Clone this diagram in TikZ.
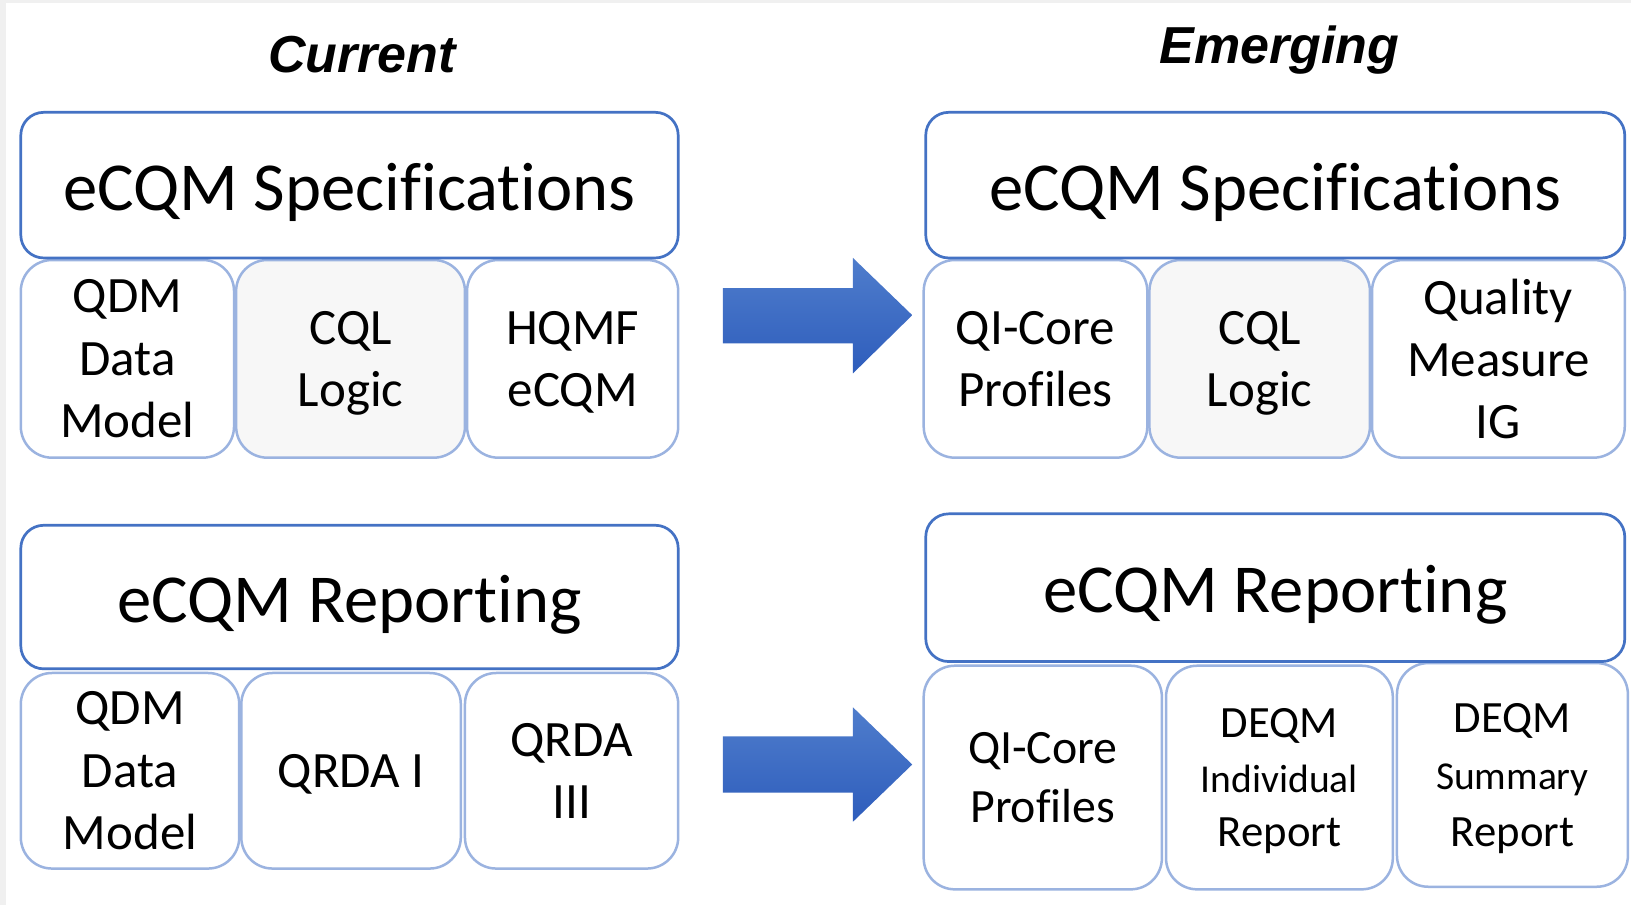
\documentclass[tikz,border=0pt]{standalone}
\usepackage{fontspec}
\setmainfont{Carlito}[Ligatures=CommonOff]
\newfontfamily\titlefont{Liberation Sans}
\definecolor{boxblue}{HTML}{4472C4}
\definecolor{subblue}{HTML}{9BB3E0}
\definecolor{cqlgray}{HTML}{F7F7F7}
\definecolor{bggray}{HTML}{F0F0F0}
\definecolor{arrtop}{HTML}{4F7DCC}
\definecolor{arrbot}{HTML}{2E5DBC}
\begin{document}
\begin{tikzpicture}[x=0.5pt,y=-0.5pt,
  headbox/.style={draw=boxblue, line width=1.3pt, fill=white, rounded corners=11pt, inner sep=0pt,
    font=\fontsize{33}{40}\selectfont, text height=24pt, text depth=0pt},
  subbox/.style={draw=subblue, line width=1.2pt, fill=white, rounded corners=15pt, inner sep=0pt,
    align=center, text depth=0pt, font=\fontsize{24.5}{30}\selectfont},
  graybox/.style={subbox, fill=cqlgray},
  titletext/.style={font=\titlefont\bfseries\itshape\fontsize{25}{30}\selectfont, anchor=base, inner sep=0pt},
  bigarrow/.style={top color=arrtop, bottom color=arrbot, draw=none}]
\fill[bggray] (0,0) rectangle (1568,870);
\fill[white] (6,3) rectangle (1568,870);
\useasboundingbox (0,0) rectangle (1568,870);

% titles
\node[titletext] (tcur) at (348,70) {Current};
\node[titletext] (temg) at (1230,61) {Emerging};

% ---- left top
\node[subbox, minimum width=102.5pt, minimum height=95pt] (lq) at (122.5,345) {QDM\\Data\\Model};
\node[graybox, minimum width=110pt, minimum height=95pt] (lc) at (337,345) {CQL\\Logic};
\node[subbox, minimum width=101.5pt, minimum height=95pt] (lh) at (550.5,345) {HQMF\\eCQM};
\node[headbox, minimum width=316pt, minimum height=70pt] (lspec) at (336,178) {eCQM Specifications};

% ---- right top
\node[subbox, minimum width=107.5pt, minimum height=95pt] (rq) at (995.5,345) {QI-Core\\Profiles};
\node[graybox, minimum width=106pt, minimum height=95pt] (rc) at (1211,345) {CQL\\Logic};
\node[subbox, minimum width=121.5pt, minimum height=95pt] (rm) at (1440.5,345) {Quality\\Measure\\IG};
\node[headbox, minimum width=336pt, minimum height=70pt] (rspec) at (1226,178) {eCQM Specifications};

% ---- left bottom
\node[subbox, minimum width=105pt, minimum height=94pt] (lq2) at (125,741) {QDM\\Data\\Model};
\node[subbox, minimum width=105.5pt, minimum height=94pt] (lr1) at (337.5,741) {QRDA I};
\node[subbox, minimum width=102.5pt, minimum height=94pt] (lr3) at (549.5,741) {QRDA\\III};
\node[headbox, minimum width=316pt, minimum height=69pt] (lrep) at (336,574) {eCQM Reporting};

% ---- right bottom
\node[subbox, minimum width=114.5pt, minimum height=107.5pt, font=\fontsize{23}{28.5}\selectfont] (rq2) at (1002.5,747.5) {QI-Core\\Profiles};
\node[subbox, minimum width=109pt, minimum height=107.5pt, font=\fontsize{21.5}{26}\selectfont] (rdi) at (1230,747.5) {DEQM\\{\fontsize{19}{26}\selectfont Individual}\\Report};
\node[subbox, minimum width=111pt, minimum height=107.5pt, font=\fontsize{21.5}{27.5}\selectfont] (rds) at (1454,745) {DEQM\\{\fontsize{19}{27.5}\selectfont Summary}\\Report};
\node[headbox, minimum width=336pt, minimum height=71pt] (rrep) at (1226,565) {eCQM Reporting};

% ---- arrows
\path[bigarrow] (695,277) -- (820,277) -- (820,248) -- (877,303) -- (820,359) -- (820,330) -- (695,330) -- cycle;
\path[bigarrow] (695,708) -- (820,708) -- (820,680) -- (877,735) -- (820,790) -- (820,762) -- (695,762) -- cycle;
\end{tikzpicture}
\end{document}
